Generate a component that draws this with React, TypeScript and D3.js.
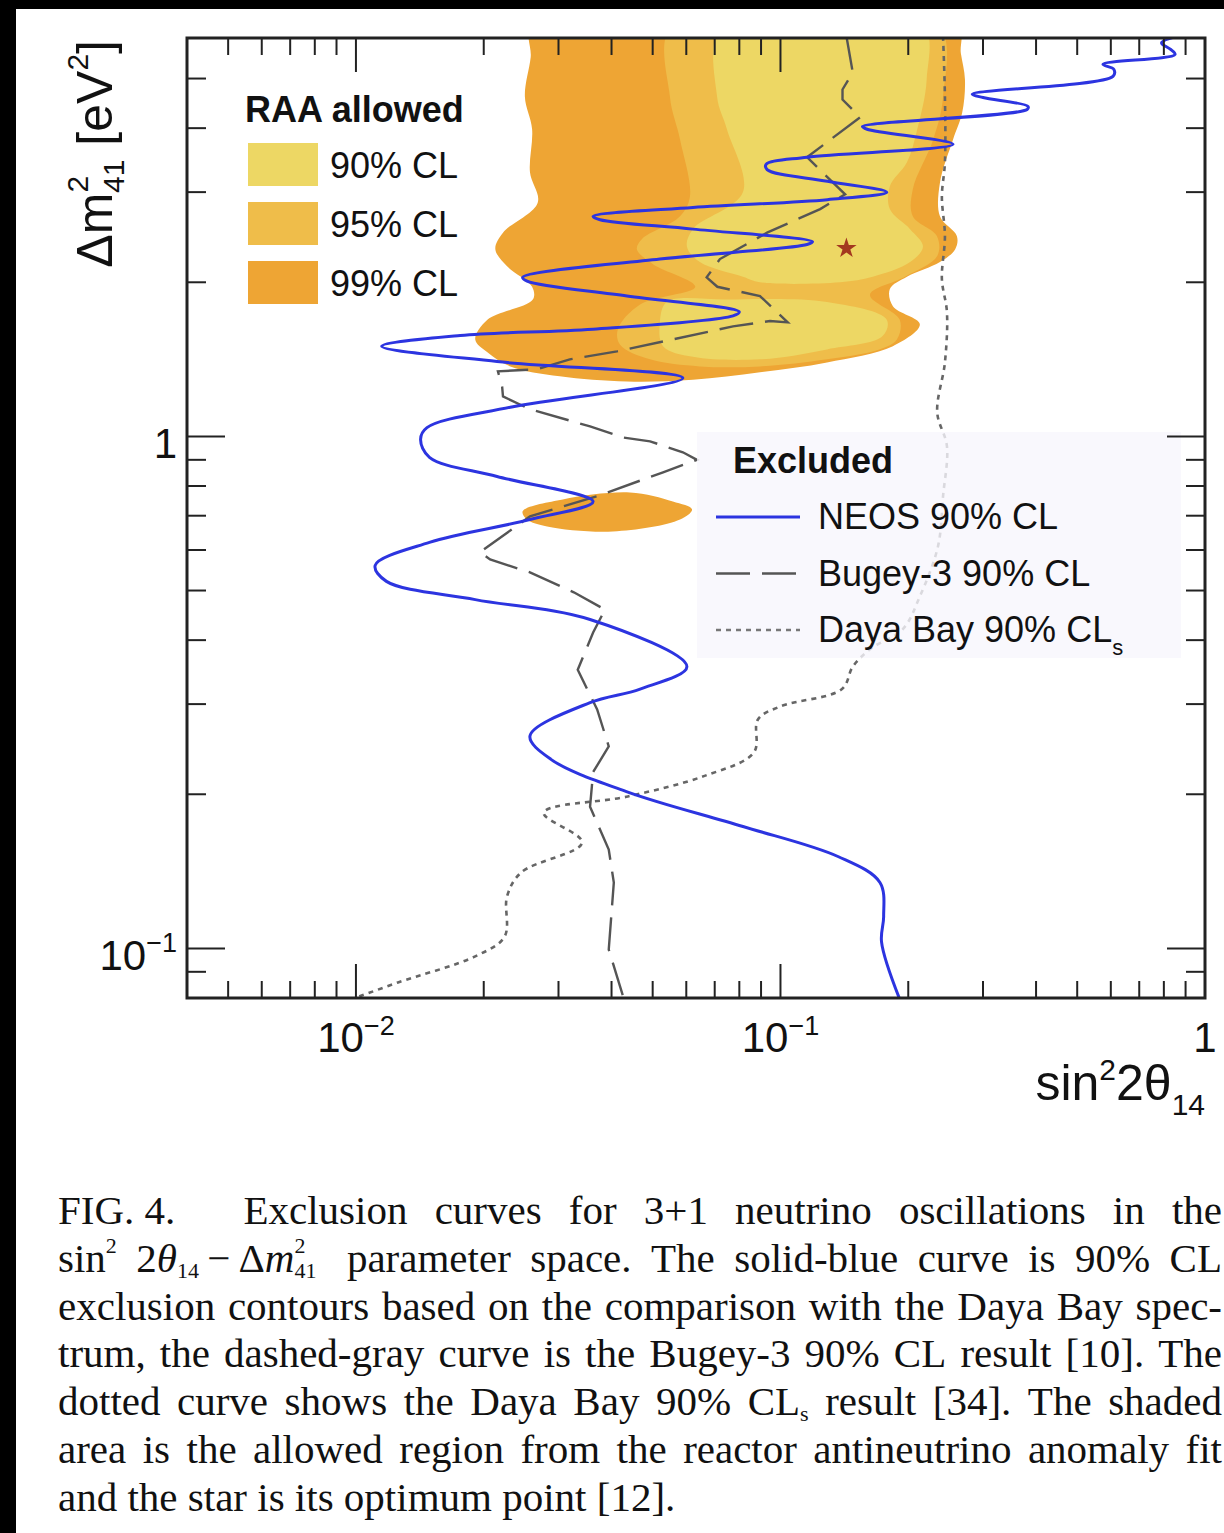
import React, { useEffect, useRef } from 'react'
import * as d3 from 'd3'

const width = 1224
const height = 1533
const frame = { left: 187, right: 1205, top: 38, bottom: 998 }

const xDomain: [number, number] = [0.004, 1]
const yDomain: [number, number] = [0.08, 6]

const xTickLabels = [
  { value: 0.01, base: '10', exp: '−2' },
  { value: 0.1, base: '10', exp: '−1' },
  { value: 1, base: '1', exp: '' },
]
const yTickLabels = [
  { value: 0.1, base: '10', exp: '−1' },
  { value: 1, base: '1', exp: '' },
]

// points are [sin^2 2theta14, dm2_41 (eV^2)]
const neos: [number, number][] = [
  [0.86, 6.05], [0.79, 5.87], [0.83, 5.7], [0.85, 5.57], [0.575, 5.33], [0.61, 5.21],
  [0.607, 5.05], [0.283, 4.66], [0.3, 4.59], [0.383, 4.41], [0.381, 4.35], [0.156, 4.03],
  [0.16, 3.98], [0.255, 3.72], [0.1155, 3.51], [0.0925, 3.4], [0.093, 3.32], [0.129, 3.15],
  [0.178, 3.0], [0.129, 2.9], [0.0622, 2.8], [0.0362, 2.69], [0.0376, 2.65], [0.0622, 2.54],
  [0.119, 2.4], [0.1155, 2.37], [0.052, 2.22], [0.0247, 2.045], [0.0253, 2.01], [0.0435, 1.88],
  [0.08, 1.75], [0.0773, 1.72], [0.0362, 1.62], [0.0176, 1.575], [0.0115, 1.5], [0.0215, 1.4],
  [0.0589, 1.3], [0.0231, 1.14], [0.0147, 1.04], [0.0142, 0.987], [0.0149, 0.91], [0.0215, 0.835],
  [0.0362, 0.746], [0.0257, 0.688], [0.0149, 0.621], [0.0111, 0.56], [0.0118, 0.521], [0.0191, 0.48],
  [0.0356, 0.439], [0.0602, 0.355], [0.0467, 0.321], [0.0356, 0.302], [0.0257, 0.26], [0.0288, 0.234],
  [0.0437, 0.202], [0.0816, 0.173], [0.137, 0.151], [0.1715, 0.1345], [0.175, 0.1155], [0.173, 0.103],
  [0.191, 0.0795],
]

const bugey: [number, number][] = [
  [0.143, 6.05], [0.148, 5.14], [0.14, 4.76], [0.14, 4.55], [0.154, 4.2], [0.1155, 3.51],
  [0.142, 2.97], [0.124, 2.78], [0.093, 2.5], [0.072, 2.22], [0.067, 2.045], [0.071, 1.96],
  [0.0895, 1.88], [0.104, 1.67], [0.0945, 1.68], [0.0773, 1.64], [0.0558, 1.547], [0.0412, 1.466],
  [0.0319, 1.414], [0.0267, 1.352], [0.0216, 1.34], [0.0221, 1.25], [0.0222, 1.197], [0.0257, 1.13],
  [0.0356, 1.046], [0.0426, 0.995], [0.0493, 0.978], [0.0589, 0.931], [0.0636, 0.9], [0.0529, 0.851],
  [0.037, 0.764], [0.0257, 0.698], [0.0196, 0.594], [0.0207, 0.575], [0.0257, 0.5425], [0.0326, 0.496],
  [0.0386, 0.459], [0.0362, 0.414], [0.0333, 0.35], [0.037, 0.293], [0.0394, 0.248], [0.0362, 0.221],
  [0.0356, 0.189], [0.0394, 0.156], [0.0405, 0.1345], [0.0394, 0.0995], [0.0428, 0.0795],
]

const dayaBay: [number, number][] = [
  [0.2415, 6.05], [0.244, 4.61], [0.244, 3.43], [0.24, 2.94], [0.244, 2.46], [0.24, 2.03],
  [0.2467, 1.747], [0.244, 1.395], [0.234, 1.114], [0.2467, 0.956], [0.2415, 0.764], [0.235, 0.61],
  [0.213, 0.487], [0.194, 0.42], [0.1625, 0.384], [0.148, 0.355], [0.1396, 0.321], [0.1, 0.297],
  [0.0885, 0.28], [0.0866, 0.2415], [0.066, 0.217], [0.0437, 0.198], [0.0277, 0.184], [0.0341, 0.161],
  [0.0245, 0.1407], [0.0227, 0.1264], [0.0224, 0.1055], [0.0191, 0.0965], [0.01256, 0.0858],
  [0.0102, 0.0806], [0.0096, 0.0792],
]

// reactor antineutrino anomaly allowed regions
const raa99: [number, number][] = [
  [0.0261, 6.4], [0.2604, 6.4], [0.266, 5.6], [0.272, 4.98], [0.268, 4.29], [0.255, 3.8],
  [0.2375, 3.13], [0.2375, 2.69], [0.2604, 2.46], [0.258, 2.32], [0.2375, 2.19], [0.1986, 2.05],
  [0.181, 1.94], [0.184, 1.795], [0.213, 1.655], [0.184, 1.5], [0.1287, 1.395], [0.0895, 1.334],
  [0.0622, 1.29], [0.0435, 1.28], [0.0302, 1.31], [0.0231, 1.37], [0.0204, 1.46], [0.0191, 1.547],
  [0.0204, 1.69], [0.0261, 1.85], [0.026, 1.96], [0.0227, 2.15], [0.0213, 2.32], [0.0222, 2.5],
  [0.0268, 2.86], [0.0257, 3.28], [0.026, 3.98], [0.025, 4.61], [0.0258, 5.5],
]
const raa99Island: [number, number][] = [
  [0.0247, 0.714], [0.0307, 0.753], [0.0442, 0.777], [0.0558, 0.746], [0.0619, 0.72],
  [0.058, 0.688], [0.0403, 0.652], [0.0282, 0.667], [0.0253, 0.688],
]
const raa95: [number, number][] = [
  [0.0558, 6.4], [0.2337, 6.4], [0.2415, 4.61], [0.229, 3.8], [0.205, 3.04], [0.205, 2.69],
  [0.2337, 2.46], [0.234, 2.25], [0.1965, 2.05], [0.1625, 1.89], [0.191, 1.69], [0.188, 1.547],
  [0.1715, 1.48], [0.1287, 1.414], [0.0895, 1.37], [0.0646, 1.37], [0.0493, 1.414], [0.0419, 1.51],
  [0.0414, 1.62], [0.0467, 1.81], [0.063, 1.96], [0.0501, 2.17], [0.0459, 2.32], [0.0472, 2.43],
  [0.058, 2.69], [0.0612, 2.94], [0.058, 3.8], [0.0549, 4.61],
]
const raa90Upper: [number, number][] = [
  [0.0732, 6.4], [0.2154, 6.4], [0.221, 4.98], [0.21, 3.98], [0.1986, 3.43], [0.181, 3.08],
  [0.181, 2.78], [0.202, 2.54], [0.2166, 2.35], [0.202, 2.19], [0.165, 2.05], [0.138, 2.0],
  [0.0895, 2.0], [0.0816, 2.05], [0.0646, 2.19], [0.0602, 2.35], [0.0622, 2.54], [0.0816, 3.0],
  [0.0748, 3.98], [0.0709, 4.61],
]
const raa90Lower: [number, number][] = [
  [0.054, 1.83], [0.0748, 1.85], [0.1287, 1.83], [0.178, 1.69], [0.174, 1.57], [0.1287, 1.479],
  [0.0895, 1.414], [0.0622, 1.43], [0.0529, 1.5], [0.052, 1.67],
]
const bestFit: [number, number] = [0.143, 2.33]

const allowedLabels = ['90% CL', '95% CL', '99% CL']
const allowedColors = ['#EDD764', '#EFBD4A', '#EEA534']
const excludedLabels = ['NEOS 90% CL', 'Bugey-3 90% CL', 'Daya Bay 90% CL']

const captionLines: string[][] = [
  ['FIG. 4.\u2003', 'Exclusion', 'curves', 'for', '3+1', 'neutrino', 'oscillations', 'in', 'the'],
  ['sin^{2}', '2|{θ}_{14}\u2009−\u2009Δ|{m}^{2}&{41}', 'parameter', 'space.', 'The', 'solid-blue', 'curve', 'is', '90%', 'CL'],
  ['exclusion', 'contours', 'based', 'on', 'the', 'comparison', 'with', 'the', 'Daya', 'Bay', 'spec-'],
  ['trum,', 'the', 'dashed-gray', 'curve', 'is', 'the', 'Bugey-3', '90%', 'CL', 'result', '[10].', 'The'],
  ['dotted', 'curve', 'shows', 'the', 'Daya', 'Bay', '90%', 'CL_{s}', 'result', '[34].', 'The', 'shaded'],
  ['area', 'is', 'the', 'allowed', 'region', 'from', 'the', 'reactor', 'antineutrino', 'anomaly', 'fit'],
  ['and', 'the', 'star', 'is', 'its', 'optimum', 'point', '[12].'],
]

const sans = '"Liberation Sans", Arial, Helvetica, sans-serif'
const serif = '"Liberation Serif", "Times New Roman", serif'
const blue = '#2c34e0'

function parseRuns(tok: string) {
  const out: { t: string; k: string }[] = []
  const re = /([\^_|&])\{([^}]*)\}|([^\^_|&]+)/g
  let m: RegExpExecArray | null
  while ((m = re.exec(tok))) {
    if (m[3]) out.push({ t: m[3], k: 'n' })
    else out.push({ t: m[2], k: m[1] })
  }
  return out
}

export default function App() {
  const captionRef = useRef<SVGGElement>(null)

  const x = d3.scaleLog().domain(xDomain).range([frame.left, frame.right])
  const y = d3.scaleLog().domain(yDomain).range([frame.bottom, frame.top])

  const smooth = d3.line<[number, number]>().x(d => x(d[0])).y(d => y(d[1])).curve(d3.curveCatmullRom.alpha(0.5))
  const straight = d3.line<[number, number]>().x(d => x(d[0])).y(d => y(d[1]))
  const blob = d3.line<[number, number]>().x(d => x(d[0])).y(d => y(d[1])).curve(d3.curveCatmullRomClosed.alpha(0.5))

  const isMajor = (v: number) => Math.abs(Math.log10(v) - Math.round(Math.log10(v))) < 1e-6
  const xTicks = x.ticks().filter(v => v > xDomain[0] * 1.001 && v < xDomain[1] * 0.999)
  const yTicks = y.ticks().filter(v => v > yDomain[0] * 1.001 && v < yDomain[1] * 0.999)

  // caption, justified word by word
  useEffect(() => {
    const g = d3.select(captionRef.current)
    g.selectAll('*').remove()
    const left = 58, right = 1222, top = 1224, lead = 47.8, fs = 41, small = 22
    const supShift = -19, subShift = 6
    captionLines.forEach((line, i) => {
      const words = line.map(tok => {
        const t = g.append('text')
          .attr('y', top + i * lead)
          .attr('font-family', serif)
          .attr('font-size', fs)
          .attr('fill', '#111')
          .style('white-space', 'pre')
        let cur = 0
        let prevLen = 0
        parseRuns(tok).forEach(r => {
          const s = t.append('tspan').text(r.t)
          if (r.k === 'n' || r.k === '|') {
            s.attr('dy', -cur); cur = 0
            if (r.k === '|') s.attr('font-style', 'italic')
          } else if (r.k === '^') {
            s.attr('dy', supShift - cur).attr('font-size', small); cur = supShift
          } else if (r.k === '_') {
            s.attr('dy', subShift - cur).attr('font-size', small); cur = subShift
          } else if (r.k === '&') {
            s.attr('dx', -prevLen * small * 0.5).attr('dy', subShift - cur).attr('font-size', small); cur = subShift
          }
          prevLen = r.t.length
        })
        return t
      })
      const widths = words.map(w => (w.node() as SVGTextElement).getComputedTextLength())
      const total = d3.sum(widths)
      const last = i === captionLines.length - 1
      const gap = last ? fs * 0.25 : (right - left - total) / (words.length - 1)
      let xx = left
      words.forEach((w, j) => { w.attr('x', xx); xx += widths[j] + gap })
    })
  }, [])

  return (
    <svg width={width} height={height} style={{ position: 'absolute', left: 0, top: 0 }} fontFamily={sans}>
      <defs>
        <clipPath id="plotArea">
          <rect x={frame.left} y={frame.top} width={frame.right - frame.left} height={frame.bottom - frame.top} />
        </clipPath>
      </defs>
      <rect width={width} height={height} fill="#fff" />
      <rect x={0} y={0} width={width} height={9} fill="#000" />
      <rect x={0} y={0} width={16} height={height} fill="#000" />

      <g clipPath="url(#plotArea)">
        <path d={blob(raa99) || ''} fill={allowedColors[2]} />
        <path d={blob(raa99Island) || ''} fill={allowedColors[2]} />
        <path d={blob(raa95) || ''} fill={allowedColors[1]} />
        <path d={blob(raa90Upper) || ''} fill={allowedColors[0]} />
        <path d={blob(raa90Lower) || ''} fill={allowedColors[0]} />
        <path d={smooth(dayaBay) || ''} fill="none" stroke="#666" strokeWidth={2.6} strokeDasharray="5 5" />
        <path d={straight(bugey) || ''} fill="none" stroke="#555" strokeWidth={2.4} strokeDasharray="34 12" />
        <path d={smooth(neos) || ''} fill="none" stroke={blue} strokeWidth={3} />
        <path d={d3.symbol(d3.symbolStar, 130)() || ''} transform={`translate(${x(bestFit[0])},${y(bestFit[1])})`} fill="#a3381f" />
      </g>

      {/* Excluded legend */}
      <rect x={697} y={432} width={484} height={226} fill="#f8f6fc" fillOpacity={0.8} />
      <text x={733} y={473} fontSize={36} fontWeight="bold" fill="#111">Excluded</text>
      {excludedLabels.map((lab, i) => {
        const ly = 517 + i * 56.5
        return (
          <g key={lab}>
            <line x1={716} x2={800} y1={ly} y2={ly}
              stroke={i === 0 ? blue : i === 1 ? '#555' : '#777'}
              strokeWidth={i === 0 ? 3 : 2.6}
              strokeDasharray={i === 1 ? '34 12' : i === 2 ? '5 5' : undefined} />
            <text x={818} y={ly + 12} fontSize={36} fill="#111">
              {lab}{i === 2 ? <tspan dy={13} fontSize={22}>s</tspan> : null}
            </text>
          </g>
        )
      })}

      {/* RAA legend */}
      <text x={245} y={122} fontSize={36} fontWeight="bold" fill="#111">RAA allowed</text>
      {allowedLabels.map((lab, i) => (
        <g key={lab}>
          <rect x={248} y={143 + i * 59} width={70} height={43} fill={allowedColors[i]} />
          <text x={330} y={178 + i * 59} fontSize={36} fill="#111">{lab}</text>
        </g>
      ))}

      {/* frame and ticks */}
      <g stroke="#222" strokeWidth={2}>
        {xTicks.map(v => {
          const len = isMajor(v) ? 34 : 17
          return (
            <g key={'x' + v}>
              <line x1={x(v)} x2={x(v)} y1={frame.bottom} y2={frame.bottom - len} />
              <line x1={x(v)} x2={x(v)} y1={frame.top} y2={frame.top + len} />
            </g>
          )
        })}
        {yTicks.map(v => {
          const len = isMajor(v) ? 38 : 19
          return (
            <g key={'y' + v}>
              <line x1={frame.left} x2={frame.left + len} y1={y(v)} y2={y(v)} />
              <line x1={frame.right} x2={frame.right - len} y1={y(v)} y2={y(v)} />
            </g>
          )
        })}
      </g>
      <rect x={frame.left} y={frame.top} width={frame.right - frame.left} height={frame.bottom - frame.top}
        fill="none" stroke="#222" strokeWidth={3} />

      {xTickLabels.map(t => (
        <text key={'xl' + t.value} x={x(t.value)} y={1052} fontSize={42} textAnchor="middle" fill="#111">
          {t.base}{t.exp ? <tspan dy={-17} fontSize={27}>{t.exp}</tspan> : null}
        </text>
      ))}
      {yTickLabels.map(t => (
        <text key={'yl' + t.value} x={177} y={y(t.value) + 22} fontSize={42} textAnchor="end" fill="#111">
          {t.base}{t.exp ? <tspan dy={-18} fontSize={27}>{t.exp}</tspan> : null}
        </text>
      ))}

      {/* axis titles */}
      <text x={1205} y={1100} fontSize={50} textAnchor="end" fill="#111">
        sin<tspan dy={-20} fontSize={30}>2</tspan><tspan dy={20}>2θ</tspan><tspan dy={15} fontSize={30}>14</tspan>
      </text>
      <text transform="translate(112,40) rotate(-90)" fontSize={50} textAnchor="end" fill="#111">
        Δm<tspan dy={-24} fontSize={30}>2</tspan><tspan dx={-17} dy={36} fontSize={30}>41</tspan>
        <tspan dy={-12}> [eV</tspan><tspan dy={-24} fontSize={30}>2</tspan><tspan dy={24}>]</tspan>
      </text>

      <g ref={captionRef} />
    </svg>
  )
}
